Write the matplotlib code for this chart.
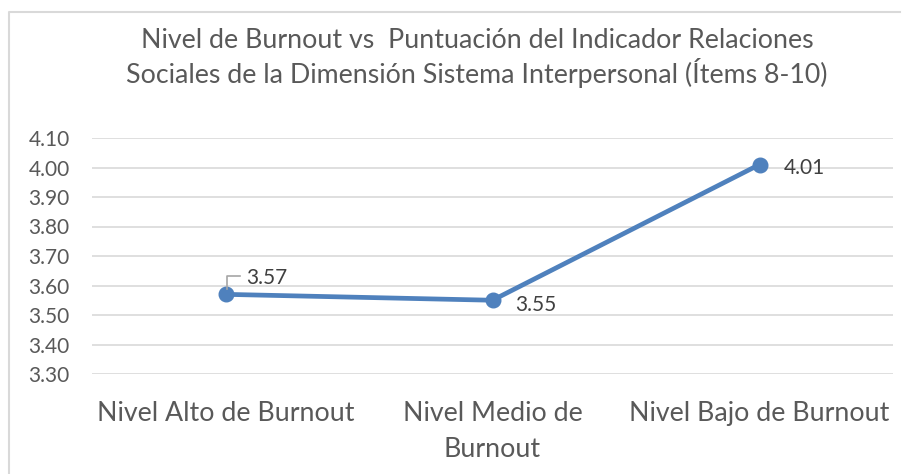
import matplotlib
matplotlib.use("Agg")
import matplotlib.pyplot as plt
from matplotlib.lines import Line2D

categories = ["Nivel Alto de Burnout", "Nivel Medio de\nBurnout", "Nivel Bajo de Burnout"]
values = [3.57, 3.55, 4.01]
value_labels = ["3.57", "3.55", "4.01"]
yticks = [3.30, 3.40, 3.50, 3.60, 3.70, 3.80, 3.90, 4.00, 4.10]
title_lines = ["Nivel de Burnout vs  Puntuación del Indicador Relaciones",
               "Sociales de la Dimensión Sistema Interpersonal (Ítems 8-10)"]

plt.rcParams['font.family'] = ['Lato', 'DejaVu Sans']

W, H = 907, 474
fig = plt.figure(figsize=(W / 100, H / 100), dpi=100)
fig.patch.set_facecolor("white")

ax = fig.add_axes([92 / W, 1 - 374 / H, (893 - 92) / W, (374 - 138) / H])
x = list(range(len(categories)))
ax.plot(x, values, color="#4F81BD", lw=3.4, marker="o", markersize=10.5,
        solid_capstyle="round", zorder=3)
ax.set_xlim(-0.5, 2.5)
ax.set_ylim(3.30, 4.10)
ax.set_yticks(yticks)
ax.set_yticklabels([f"{v:.2f}" for v in yticks])
ax.set_xticks(x)
ax.set_xticklabels(categories, linespacing=1.57)
for s in ax.spines.values():
    s.set_visible(False)
ax.grid(axis="y", color="#D9D9D9", lw=1.2)
ax.set_axisbelow(True)
ax.tick_params(axis="y", length=0, pad=16, labelsize=15, labelcolor="#595959")
ax.tick_params(axis="x", length=0, pad=19.5, labelsize=19.3, labelcolor="#595959")

offsets = [(21, 10), (23, -11), (24, -9)]
for xi, v, lab, off in zip(x, values, value_labels, offsets):
    ax.annotate(lab, (xi, v), xytext=off, textcoords="offset pixels",
                ha="left", va="baseline", fontsize=15, color="#404040")

# leader line for first label
fig.add_artist(Line2D([227 / W, 227 / W, 240 / W],
                      [1 - 289 / H, 1 - 276 / H, 1 - 276 / H],
                      color="#A6A6A6", lw=1.2))

fig.text(477 / W, 1 - 48 / H, title_lines[0], ha="center", va="baseline",
         fontsize=19.3, color="#595959")
fig.text(477 / W, 1 - 83 / H, title_lines[1], ha="center", va="baseline",
         fontsize=19.3, color="#595959")

# chart area border
fig.add_artist(Line2D([9 / W, 9 / W, 900 / W], [0, 1 - 12 / H, 1 - 12 / H],
                      color="#D9D9D9", lw=1.5))

fig.savefig("out.png", dpi=100, facecolor="white")
